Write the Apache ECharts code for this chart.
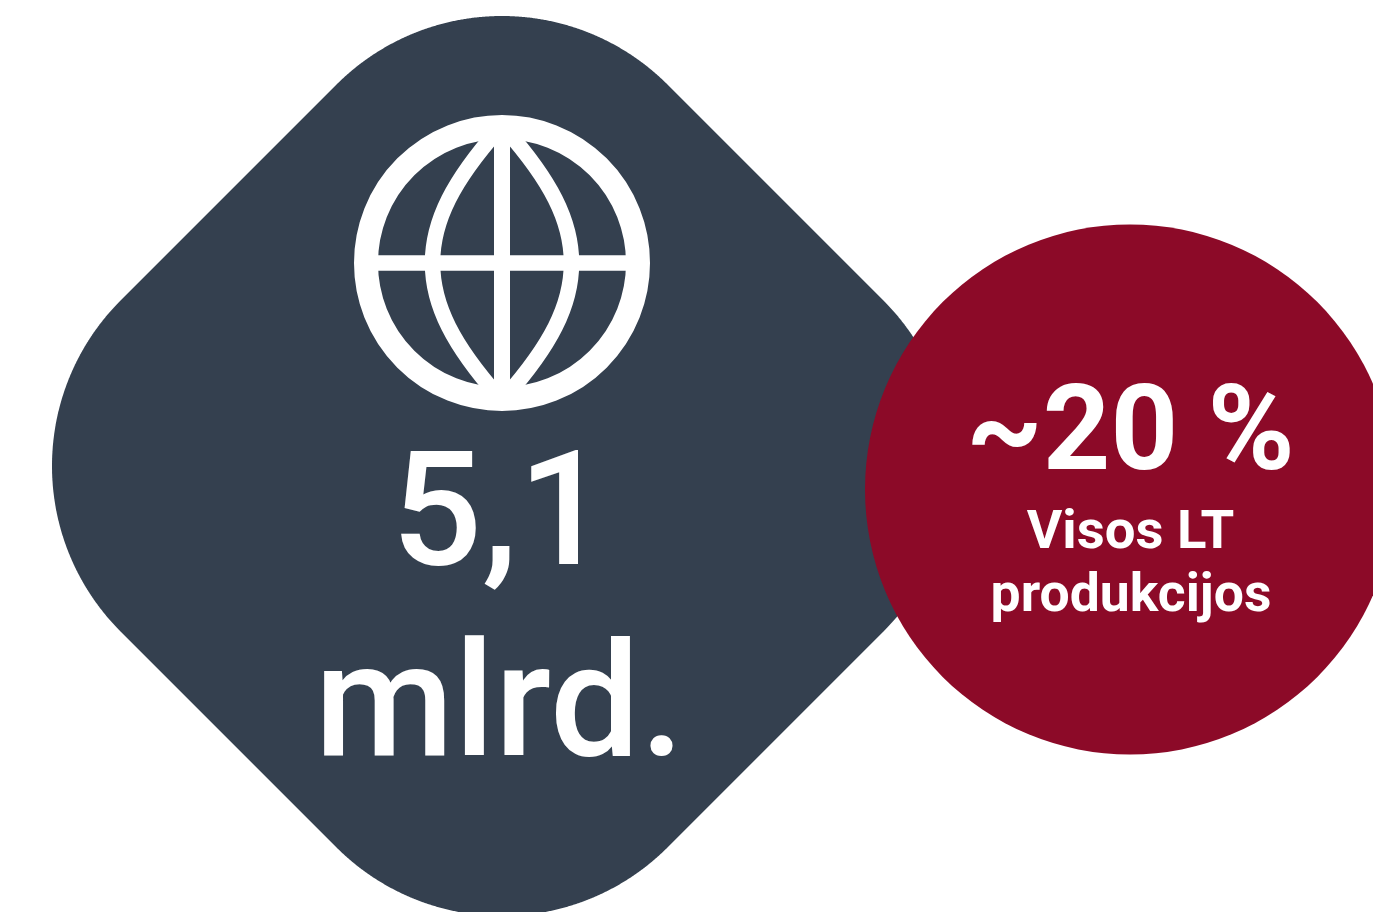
<!DOCTYPE html>
<html><head><meta charset="utf-8">
<style>html,body{margin:0;padding:0;background:#fff;overflow:hidden}#c{width:1373px;height:912px}</style>
<script src="https://cdn.jsdelivr.net/npm/echarts@6/dist/echarts.min.js"></script>
</head><body><div id="c"></div>
<script>
var mainValue = ['5,1', 'mlrd.'];
var shareValue = ['~20 %'];
var shareLabel = ['Visos LT', 'produkcijos'];
var navy = '#34404f', red = '#8c0a28';
var F = 'Roboto';
function roundedDiamond(){
  var centers=[[502,250,-135,-45],[718,466,-45,45],[502,682,45,135],[286,466,135,225]], R=234, pts=[];
  centers.forEach(function(c){
    for(var a=c[2];a<=c[3];a+=0.25){
      var t=a*Math.PI/180; pts.push([c[0]+R*Math.cos(t),c[1]+R*Math.sin(t)]);
    }
  });
  return pts;
}
var chart = echarts.init(document.getElementById('c'), null, {renderer:'canvas'});
var m = {fill:'none', stroke:'#fff', lineWidth:15.5};
function txt(t,x,y,font){return {type:'text', style:{text:t,x:x,y:y,align:'center',verticalAlign:'middle',font:font,fill:'#fff'}};}
chart.setOption({
  animation:false,
  graphic:[
    {type:'polygon', shape:{points:roundedDiamond()}, style:{fill:navy}},
    {type:'circle', shape:{cx:1130,cy:489.5,r:265}, style:{fill:red}},
    {type:'circle', shape:{cx:502,cy:263,r:136}, style:{fill:'none',stroke:'#fff',lineWidth:24}},
    {type:'line', shape:{x1:502,y1:130,x2:502,y2:396}, style:{stroke:'#fff',lineWidth:16}},
    {type:'line', shape:{x1:370,y1:263,x2:634,y2:263}, style:{stroke:'#fff',lineWidth:15.5}},
    {type:'bezierCurve', shape:{x1:498,y1:130,x2:432.5,y2:263,cpx1:454,cpy1:180,cpx2:432.5,cpy2:220}, style:m},
    {type:'bezierCurve', shape:{x1:498,y1:396,x2:432.5,y2:263,cpx1:454,cpy1:346,cpx2:432.5,cpy2:306}, style:m},
    {type:'bezierCurve', shape:{x1:506,y1:130,x2:571.5,y2:263,cpx1:550,cpy1:180,cpx2:571.5,cpy2:220}, style:m},
    {type:'bezierCurve', shape:{x1:506,y1:396,x2:571.5,y2:263,cpx1:550,cpy1:346,cpx2:571.5,cpy2:306}, style:m},
    txt(mainValue[0],500,524,'500 160px '+F),
    txt(mainValue[1],499.5,715,'500 160px '+F),
    txt(shareValue[0],1130.5,439,'700 118px '+F),
    txt(shareLabel[0],1130.5,534.5,'700 54.5px '+F),
    txt(shareLabel[1],1131,597.5,'700 53.5px '+F)
  ]
});
</script></body></html>
